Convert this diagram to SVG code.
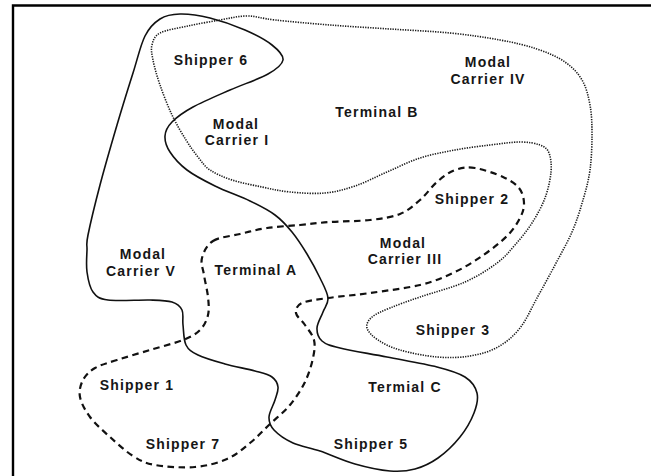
<svg xmlns="http://www.w3.org/2000/svg" width="651" height="476" viewBox="0 0 651 476">
<style>
.solid{fill:none;stroke:#111;stroke-width:1.6;stroke-linejoin:round}
.dotted{fill:none;stroke:#1a1a1a;stroke-width:1.6;stroke-dasharray:1.3 1.2}
.dashed{fill:none;stroke:#111;stroke-width:2.2;stroke-dasharray:6.5 4.5}
.frame{fill:none;stroke:#000;stroke-width:2.4}
text{font-family:"Liberation Sans","Arial",sans-serif;font-weight:bold;font-size:14px;fill:#161616;text-anchor:middle;letter-spacing:1.2px}
</style>
<rect width="651" height="476" fill="#fff"/>
<path class="frame" d="M13,476 V5.5 H651"/>
<g id="connectors">
<path id="solid-loop" class="solid" d="M88,235 C90.2,224.2 95.2,203.3 100,185 S111.5,143.7 117,125 S128.3,87.8 133,73 S140.5,45 145,36 S154.2,22.7 160,19 S171.7,14.2 180,14 S199.2,15.3 210,18 S234.7,25.5 245,30 S265.7,40 272,45 S283.7,55.2 283,60 S276.8,69 268,74 S242.5,84.5 230,90 S202.7,101.7 193,107 S176.7,117.2 172,122 S165.3,131 165,136 S166.3,146.3 170,152 S179.5,164.3 187,170 S204.5,180.8 215,186 S240,196.2 250,201 S268,209.8 275,215 S286.7,225.5 292,232 S302.3,246.3 307,254 S316.5,270.7 320,278 S327.5,292.3 328,298 S324.8,307 323,312 S317.2,323.2 317,328 S318.2,337.7 322,341 S329.2,345.3 340,348 S370.8,353.8 387,357 S424,363.7 437,367 S458.3,372.7 465,377 S475.5,387 477,393 S476.8,405.7 474,413 S466,429.5 460,437 S445.5,452.7 438,458 S423,466.8 415,469 S400,471.8 390,471 S366.7,467.3 355,464 S330.3,454.5 320,451 S300.7,446.5 293,443 S278,434.3 274,430 S268.8,422 269,417 S273.5,405 275,400 S278.5,390.8 278,387 S275.8,379.7 272,377 S262.8,373.2 255,371 S234.5,366.7 225,364 S204.5,358.2 198,355 S188.5,350 186,345 S183.7,330.8 183,325 S183.8,313.8 182,310 S177.3,303.7 172,302 S160.7,300.3 150,300 S117.5,301.3 108,300 S96.5,296.7 93,292 S88,279 87,272 S86.8,256.2 87,250 S85.8,245.8 88,235 Z"/>
<path id="dotted-loop" class="dotted" d="M152,45 C153.2,40.5 154,36.2 160,33 S178,28.2 188,26 S210.2,21.7 220,20 S237.8,16 247,16 S261.2,18.5 275,20 S310.8,23.5 330,25 S370,27.7 390,29 S431.7,31.2 450,33 S485.5,37.3 500,40 S526.2,45.3 537,49 S557.5,56.8 565,62 S577.8,72.8 582,80 S588.3,95.8 590,105 S592,124.2 592,135 S591.5,159.2 590,170 S586,189.7 583,200 S576.7,221.2 572,232 S560.8,254 555,265 S542.8,287.5 537,298 S526.5,319.8 520,328 S506.3,342.3 498,347 S480.2,354.3 470,356 S448.7,358 437,357 S409.8,352.8 400,350 S383.5,343.7 378,340 S368,331.8 367,328 S368.2,320.3 372,317 S382,311.3 390,308 S407.5,301.3 420,297 S452.2,287.7 465,282 S488.7,269.2 497,263 S509.2,251.7 515,245 S527,230.8 532,223 S541.8,206.5 545,198 S550.3,179.5 551,172 S550.8,157.5 549,153 S544.8,146.8 540,145 S528.3,142 520,142 S500.8,143.7 490,145 S466.7,147.8 455,150 S431.3,154.3 420,158 S397.8,167.3 387,172 S365.3,182.5 355,186 S335.8,192 325,193 S300.5,193 290,192 S271.7,189 262,187 S240.7,182.8 232,180 S215.7,173.8 210,170 S202,162 198,157 S190.3,147 186,140 S176.3,124.2 172,115 S163.2,94.2 160,85 S154.3,66.7 153,60 S150.8,49.5 152,45 Z"/>
<path id="dashed-loop" class="dashed" d="M213,241 C219.3,237 231,236.2 240,234 S257,229.5 267,228 S289.5,226 300,225 S318.3,222.8 330,222 S358.3,221.3 370,220 S391.7,217.3 400,214 S413.8,205.3 420,200 S431.2,187 437,182 S448.7,172.3 455,170 S467,166.8 475,168 S495.7,173.7 503,177 S515.5,183.7 519,188 S523.8,198 524,203 S522.8,212.5 520,218 S513.3,229.7 507,236 S491,249.8 482,256 S463.3,268.2 453,273 S433.8,281.7 420,285 S385.3,290.8 370,293 S339.3,296.3 328,298 S307.3,300.5 302,303 S295.5,309.3 296,313 S302,320.5 305,325 S312.7,334.5 314,340 S314.5,351 313,358 S308.8,374.2 305,382 S295.8,398 290,405 S276.7,417.7 270,424 S257.2,437.2 250,443 S236.2,455 227,459 S207,466 195,467 S165.3,466.8 155,465 S140.5,460.7 133,456 S117.2,443.5 110,437 S95,423.7 90,417 S81.2,403.2 80,397 S80.5,384.8 83,380 S89.3,371.3 95,368 S107.8,363 117,360 S139,353.3 150,350 S174.7,343.3 183,340 S195.8,334.2 200,330 S206.7,320.5 208,315 S208.7,303.7 208,297 S205,281.5 204,275 S200.5,263.7 202,258 S206.7,245 213,241 Z"/>
</g>
<g id="shipper6"><text x="211" y="65">Shipper 6</text></g>
<g id="modal-carrier-1"><text x="236" y="129">Modal</text><text x="237" y="145">Carrier I</text></g>
<g id="terminal-b"><text x="377" y="117">Terminal B</text></g>
<g id="modal-carrier-4"><text x="488" y="67">Modal</text><text x="488" y="84">Carrier IV</text></g>
<g id="shipper2"><text x="472" y="204">Shipper 2</text></g>
<g id="modal-carrier-3"><text x="403" y="248">Modal</text><text x="405" y="264">Carrier III</text></g>
<g id="modal-carrier-5"><text x="143" y="259">Modal</text><text x="141" y="276">Carrier V</text></g>
<g id="terminal-a"><text x="256" y="275">Terminal A</text></g>
<g id="shipper3"><text x="453" y="335">Shipper 3</text></g>
<g id="terminal-c"><text x="405" y="392">Termial C</text></g>
<g id="shipper5"><text x="371" y="449">Shipper 5</text></g>
<g id="shipper1"><text x="137" y="390">Shipper 1</text></g>
<g id="shipper7"><text x="183" y="449">Shipper 7</text></g>
</svg>
